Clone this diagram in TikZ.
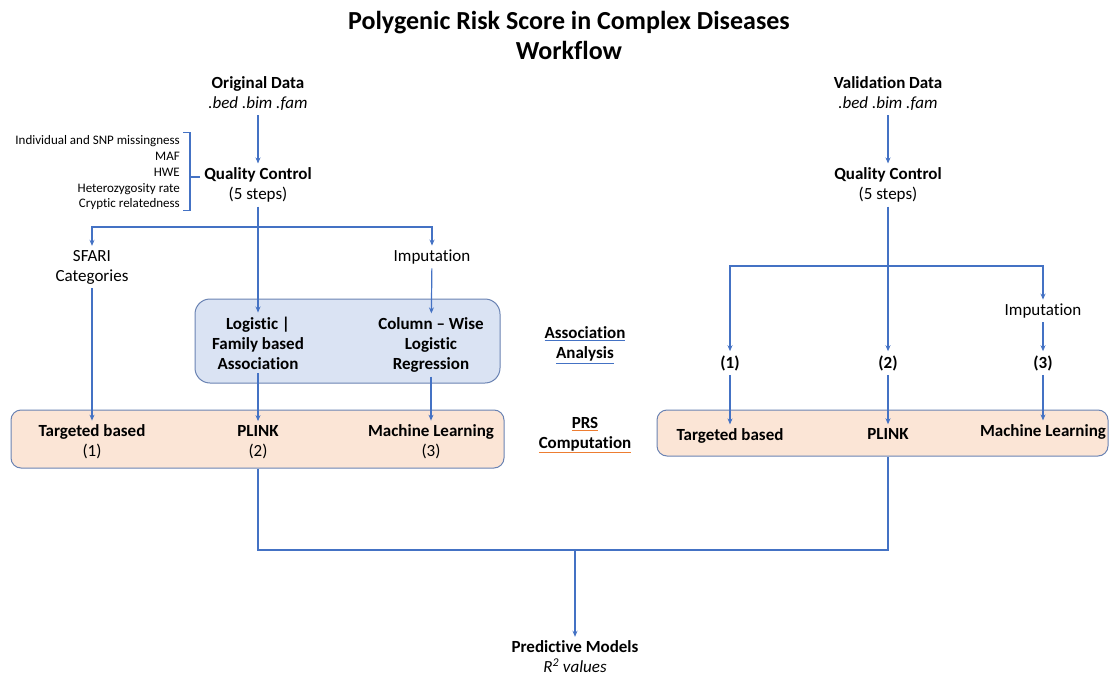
\documentclass[tikz,border=0pt]{standalone}
\usepackage{fontspec}
\setmainfont[Ligatures=NoCommon]{Carlito}
\usetikzlibrary{arrows.meta}
\definecolor{lineblue}{HTML}{4472C4}
\definecolor{boxblue}{HTML}{DAE3F3}
\definecolor{boxorange}{HTML}{FBE5D6}
\definecolor{boxedge}{HTML}{6A83B3}
\definecolor{ulorange}{HTML}{ED7D31}
\newcommand\colul[2]{{\color{#1}\underline{\textcolor{black}{#2}}}}
\begin{document}
\begin{tikzpicture}[x=1pt,y=-1pt,
    every node/.style={font=\fontsize{17}{20}\selectfont,align=center,inner sep=4pt},
    boldtext/.style={font=\fontsize{17}{20}\selectfont\bfseries},
    listtext/.style={font=\fontsize{13}{15.75}\selectfont,align=right,anchor=east,inner sep=0pt},
    titletext/.style={font=\fontsize{26}{30}\selectfont\bfseries},
    bluebox/.style={draw=boxedge,fill=boxblue,line width=1pt,rounded corners=15pt},
    orangebox/.style={draw=boxedge,fill=boxorange,line width=1pt,rounded corners=10pt},
    wire/.style={lineblue,line width=1.2pt},
    flow/.style={wire,-{Stealth[length=6pt,width=5pt]}}]
    \useasboundingbox (0,0) rectangle (1109,677);
    \node[titletext] (title) at (569,35) {Polygenic Risk Score in Complex Diseases\\Workflow};
    \node[bluebox,minimum width=305,minimum height=84] (assocbox) at (347.5,341) {};
    \node[orangebox,minimum width=493,minimum height=58] (boxL) at (257.5,439) {};
    \node[orangebox,minimum width=451,minimum height=46] (boxR) at (882.5,433) {};
    \node (orig) at (258,94) {\textbf{Original Data}\\\textit{.bed .bim .fam}};
    \node (qcL) at (258,185) {\textbf{Quality Control}\\(5 steps)};
    \node[listtext] (qclist) at (180,173) {Individual and SNP missingness\\MAF\\HWE\\Heterozygosity rate\\Cryptic relatedness};
    \node (sfari) at (92,267) {SFARI\\Categories};
    \node (imput) at (432,257) {Imputation};
    \node[boldtext] (logit) at (258,343) {Logistic |\\Family based\\Association};
    \node[boldtext] (colwise) at (431,345) {Column -- Wise\\Logistic\\Regression};
    \node (tgtL) at (92,442) {\textbf{Targeted based}\\(1)};
    \node (plinkL) at (258,442) {\textbf{PLINK}\\(2)};
    \node (mlL) at (431,442) {\textbf{Machine Learning}\\(3)};
    \node[boldtext] (assoclbl) at (585,345) {\colul{lineblue}{Association}\\\colul{lineblue}{Analysis}};
    \node[boldtext] (prslbl) at (585,435) {\colul{ulorange}{PRS}\\\colul{ulorange}{Computation}};
    \node (valid) at (888,94) {\textbf{Validation Data}\\\textit{.bed .bim .fam}};
    \node (qcR) at (888,185) {\textbf{Quality Control}\\(5 steps)};
    \node (imputR) at (1043,311) {Imputation};
    \node[boldtext] (n1) at (730,363) {(1)};
    \node[boldtext] (n2) at (888,363) {(2)};
    \node[boldtext] (n3) at (1043,363) {(3)};
    \node[boldtext] (tgtR) at (730,436) {Targeted based};
    \node[boldtext] (plinkR) at (888,434) {PLINK};
    \node[boldtext] (mlR) at (1043,432) {Machine Learning};
    \node (pred) at (575,657) {\textbf{Predictive Models}\\\textit{R\textsuperscript{2} values}};
    \coordinate (split) at (258,227);
    \coordinate (splitR) at (888,266);
    \coordinate (join) at (575,550);
    \draw[wire] ([xshift=-7]qclist.north east) ++(10,-3) -- ++(7,0) coordinate (brtop) -- (brtop |- qclist.south east) -- ++(-7,0);
    \draw[wire] (brtop |- qcL.west) ++(0,-8) -- (qcL.west |- 0,177);
    \draw[flow] (orig) -- (qcL);
    \draw[flow] (qcL) -- (logit);
    \draw[flow] (split) -| (sfari);
    \draw[flow] (split) -| (imput);
    \draw[flow] (sfari) -- (tgtL);
    \draw[flow] (imput) -- (colwise);
    \draw[flow] (logit) -- (plinkL);
    \draw[flow] (colwise) -- (mlL);
    \draw[flow] (valid) -- (qcR);
    \draw[flow] (qcR) -- (n2);
    \draw[flow] (splitR) -| (n1);
    \draw[flow] (splitR) -| (imputR);
    \draw[flow] (imputR) -- (n3);
    \draw[flow] (n1) -- (tgtR);
    \draw[flow] (n2) -- (plinkR);
    \draw[flow] (n3) -- (mlR);
    \draw[wire] (plinkL |- boxL.south) -- (plinkL |- join) -- (plinkR |- join) -- (plinkR |- boxR.south);
    \draw[flow] (join) -- (pred);
\end{tikzpicture}
\end{document}
